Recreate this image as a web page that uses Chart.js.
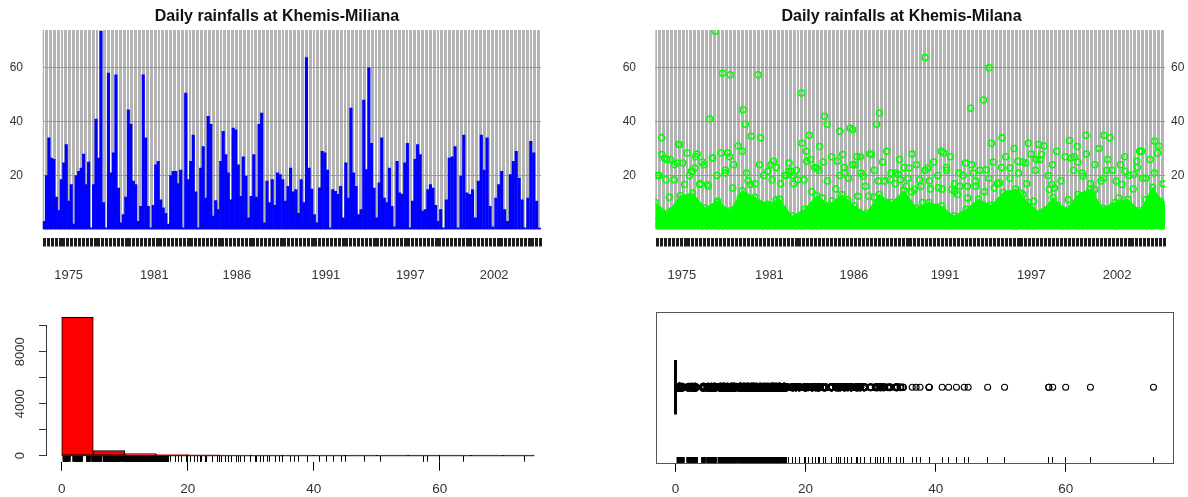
<!DOCTYPE html>
<html>
<head>
<meta charset="utf-8">
<script src="https://cdn.jsdelivr.net/npm/chart.js@4.4.0/dist/chart.umd.min.js"></script>
<style>
html,body{margin:0;padding:0;background:#ffffff;}
#wrap{position:relative;width:1188px;height:497px;overflow:hidden;background:#fff;}
canvas{position:absolute;display:block;}
</style>
</head>
<body>
<div id="wrap">
  <canvas id="c1" width="600" height="300" style="left:0;top:0"></canvas>
  <canvas id="c2" width="588" height="300" style="left:600px;top:0"></canvas>
  <canvas id="c3" width="600" height="197" style="left:0;top:300px"></canvas>
  <canvas id="c4" width="588" height="197" style="left:600px;top:300px"></canvas>
</div>
<script>
// ---------------- DATA ----------------
// daily rainfall (mm), peak value per short period, in time order
const rainPeaks = [
  3, 20, 34, 26.5, 26, 12, 7, 18.5, 24.7, 31.5, 10.5, 16.7, 2, 20, 21.6, 22.8, 28, 16.7, 25, 0.6,
  16.7, 41, 26.5, 73.5, 10, 0.6, 58, 21, 28.4, 57.4, 15.4, 2.5, 5.5, 12, 44.4, 39, 18, 16.7, 3, 8.6,
  57.4, 34, 8.6, 0.6, 9, 24, 25.3, 11, 8, 6, 2, 20, 21.6, 21.6, 17, 22, 0.6, 50.6, 18.5, 25.3,
  35, 14, 0.6, 22.8, 30.8, 11.7, 42, 39, 5, 10.7, 7.4, 25.3, 36.4, 27.8, 21, 11, 37.6, 37, 24, 12.3,
  27, 19.8, 4.3, 12.3, 27.8, 12, 39, 43.2, 2.5, 18, 10, 18.5, 9, 21, 20.4, 18.5, 10.5, 16, 22.8, 14,
  14.8, 6, 18.5, 10, 63.8, 22.8, 15, 5.5, 2.5, 15.5, 29, 28.4, 22, 0.6, 14.8, 14.2, 13, 16,
  4.3, 24.7, 11.7, 45, 21, 16, 5.5, 7.4, 48, 22.2, 60, 32, 15.4, 4.3, 17.3, 34, 11.7, 10, 22.8, 8.6,
  1, 25.3, 13.6, 13, 24.7, 32, 0.6, 10.5, 26, 31.5, 27.8, 6.8, 7.4, 14.8, 16.7, 15.4, 9, 3, 7.4,
  0.6, 11, 26.5, 27, 30.8, 0.6, 19.8, 35, 13.6, 13, 14.8, 4.3, 18, 35, 22, 34, 8.6, 1, 11.7, 16.7,
  21.6, 7.4, 3, 20.4, 25.3, 29, 19, 11, 0.6, 11.7, 32.7, 28.4, 10.5, 0.5
];
// the peaks above come in 5 reading blocks: first day of each block, number of peaks in it
const blockStartDays = [0, 2331, 4679, 7027, 9375];
const blockCounts = [40, 40, 38, 39, 34];
// other wet days of moderate size (second tier of the scatter), in time order
const midValues = [
  20, 27.8, 18.5, 26, 24, 31.5, 24.7, 28.4, 21.6, 27, 17, 24, 16, 26.5, 20, 28.4, 22, 27, 24, 31,
  29, 21, 34.6, 17, 24, 20, 21.6, 18.5, 23, 17, 20, 24.7, 20, 18.5, 32, 29, 26, 23,
  22, 25, 18, 27, 15, 20, 23, 19, 24, 27, 21, 16, 28, 22, 18,
  25, 29, 21, 17, 26, 23, 19, 28, 24, 16, 22, 18, 25, 20, 15, 23, 27, 17, 21,
  20, 16, 24, 18, 22, 14, 19, 25, 17, 23, 27, 19, 30, 21, 25, 17, 28, 22,
  26, 31, 20, 24, 29, 18, 27, 33, 22, 25, 21, 28, 17, 24, 30, 19, 26, 22,
  18, 24, 27, 20, 15, 23, 29, 19, 26, 21, 31, 17
];
// upper level of the dense mass of small daily values (scatter panel)
const bandTops = [
  10, 6, 12.5, 13.5, 8, 10.6, 7, 14.4, 12, 9.4, 11.2, 5, 7.5, 12.5, 9, 13, 8.8, 6, 13, 10, 14.4,
  8, 10, 8.8, 5, 7.5, 11.2, 9, 13.7, 15, 10, 6, 11.9, 6.9, 13, 15, 8, 10, 11.2, 7, 15.6, 9
];
const totalDays = 11700;                       // length of the daily series
const yearTickDays = [610, 2620, 4560, 6650, 8630, 10600];
const yearTickLabels = ['1975', '1981', '1986', '1991', '1997', '2002'];
const rainTicks = [20, 40, 60];
// histogram of daily rainfall
const binStarts = [0, 5, 10, 15, 20, 25, 30, 35, 40, 45, 50, 55, 60, 65, 70];
const binCounts = [10650, 385, 155, 90, 60, 20, 12, 8, 6, 4, 2, 3, 2, 1, 1];
const binWidth = 5;
const countTicks = [0, 2000, 4000, 6000, 8000, 10000];
const countLabels = [0, 4000, 8000];
const valueTicks = [0, 20, 40, 60];
// box plot statistics (most days are dry: quartiles all at 0)
const boxQuartiles = [0, 0, 0];
const observations = rainPeaks.concat(midValues, bandTops);

// ---------------- STYLE / HELPERS ----------------
const FONT = '"Liberation Sans", Arial, Helvetica, sans-serif';
Chart.defaults.font.family = FONT;
Chart.defaults.color = '#333';
const TXT = '#333';
const denseLimit = 17;     // below this value the rug / outlier marks merge into a solid band

// day position of every peak
const peakDays = [];
blockCounts.forEach((n, b) => {
  const end = b + 1 < blockStartDays.length ? blockStartDays[b + 1] : totalDays;
  const step = (end - blockStartDays[b]) / n;
  for (let j = 0; j < n; j++) peakDays.push(blockStartDays[b] + (j + 0.5) * step);
});
const peakPoints = rainPeaks.map((v, i) => ({x: peakDays[i], y: v}));

function quarterGrid() { const a = []; for (let d = 45; d < totalDays; d += 91) a.push({value: d}); return a; }
const setTicks = (arr) => (s) => { s.ticks = arr.map(v => ({value: v})); };
const spread = (arr) => arr.map((v, i) => ({x: (i + 0.5) * totalDays / arr.length, y: v}));

const grayBg = {
  id: 'grayBg',
  beforeDraw(chart) {
    const {ctx, chartArea: a} = chart;
    ctx.save();
    ctx.fillStyle = '#b3b3b3';
    ctx.fillRect(a.left, a.top, a.right - a.left, a.bottom - a.top);
    ctx.restore();
  }
};
const frameBox = {
  id: 'frameBox',
  afterDraw(chart) {
    const {ctx, chartArea: a, scales} = chart;
    const b = scales.xrug.bottom;
    ctx.save();
    ctx.strokeStyle = '#555';
    ctx.lineWidth = 1;
    ctx.strokeRect(Math.round(a.left) + 0.5, Math.round(a.top) + 0.5, Math.round(a.right - a.left), Math.round(b - a.top));
    ctx.restore();
  }
};

function topScales(leftW, rightW, leftPad, rightPad) {
  return {
    xs: { type: 'linear', position: 'bottom', min: 0, max: totalDays, bounds: 'data', weight: 0, offset: false,
      afterBuildTicks: (s) => { s.ticks = []; },
      grid: { display: false, offset: false }, ticks: { display: false }, border: { display: false },
      afterFit: (s) => { s.height = 8; } },
    xr: { type: 'linear', position: 'bottom', min: 0, max: totalDays, bounds: 'data', weight: 1, offset: false,
      afterBuildTicks: (s) => { s.ticks = quarterGrid(); },
      grid: { offset: false, color: '#ffffff', lineWidth: 1, drawTicks: true, tickLength: 9, tickColor: '#1c1c1c', tickWidth: 3, z: -1 },
      ticks: { display: false }, border: { display: false },
      afterFit: (s) => { s.height = 9; } },
    xl: { type: 'linear', position: 'bottom', min: 0, max: totalDays, bounds: 'data', weight: 2, offset: false,
      afterBuildTicks: setTicks(yearTickDays),
      grid: { display: false, drawTicks: false, offset: false }, border: { display: false },
      ticks: { autoSkip: false, maxRotation: 0, padding: 21.5, color: TXT, font: { size: 12.9 },
        callback: (v, i) => yearTickLabels[i] },
      afterFit: (s) => { s.height = 40; } },
    y: { position: 'left', min: 0, max: 74, afterBuildTicks: setTicks(rainTicks),
      grid: { color: '#999999', lineWidth: 1, drawTicks: false, z: -0.5 }, border: { display: false },
      ticks: { padding: leftPad, color: TXT, font: { size: 12 } },
      afterFit: (s) => { s.width = leftW; } },
    y2: { position: 'right', min: 0, max: 74, afterBuildTicks: setTicks(rainTicks),
      grid: { display: false, drawTicks: false }, border: { display: false },
      ticks: { padding: rightPad, color: TXT, font: { size: 12 } },
      afterFit: (s) => { s.width = rightW; } }
  };
}
const titleOpts = (text) => ({ display: true, text, color: '#111', font: { size: 16, weight: 'bold' },
  padding: { top: 7.1, bottom: 3.7 } });
const rugWidth = (c) => (c.tick && c.tick.value < denseLimit ? 4 : 1);

// ---------------- TOP LEFT: bars ----------------
new Chart(document.getElementById('c1'), {
  type: 'bar',
  data: { datasets: [{
    data: peakPoints, xAxisID: 'xr', yAxisID: 'y',
    backgroundColor: '#0000ff', borderWidth: 0, barPercentage: 1, categoryPercentage: 1
  }] },
  options: {
    responsive: false, animation: false, devicePixelRatio: 1,
    layout: { padding: { left: 0, right: 46, top: 0, bottom: 13.5 } },
    plugins: { legend: { display: false }, tooltip: { enabled: false }, title: titleOpts('Daily rainfalls at Khemis-Miliana') },
    scales: topScales(42.7, 13, 19.7, 20)
  },
  plugins: [grayBg]
});

// ---------------- TOP RIGHT: points ----------------
const ring = { showLine: false, pointRadius: 3, pointBorderWidth: 1.5,
  pointBorderColor: '#00ff00', pointBackgroundColor: 'rgba(0,0,0,0)' };
new Chart(document.getElementById('c2'), {
  type: 'line',
  data: { datasets: [
    { data: bandTops.map((v, i) => ({x: i * totalDays / (bandTops.length - 1), y: v})),
      xAxisID: 'xr', yAxisID: 'y', fill: 'origin', backgroundColor: '#00ff00', borderColor: '#00ff00',
      borderWidth: 1, tension: 0, pointRadius: 3, pointBorderWidth: 1.5,
      pointBorderColor: '#00ff00', pointBackgroundColor: 'rgba(0,0,0,0)' },
    Object.assign({ data: spread(midValues), xAxisID: 'xr', yAxisID: 'y' }, ring),
    Object.assign({ data: peakPoints, xAxisID: 'xr', yAxisID: 'y' }, ring)
  ] },
  options: {
    responsive: false, animation: false, devicePixelRatio: 1,
    layout: { padding: { left: 15, right: 0, top: 0, bottom: 13.5 } },
    plugins: { legend: { display: false }, tooltip: { enabled: false }, title: titleOpts('Daily rainfalls at Khemis-Milana') },
    scales: topScales(40.3, 23, 19.3, 6)
  },
  plugins: [grayBg]
});

// ---------------- BOTTOM LEFT: histogram ----------------
new Chart(document.getElementById('c3'), {
  type: 'bar',
  data: { datasets: [
    { type: 'bar', data: binStarts.map((s, i) => ({x: s + binWidth / 2, y: binCounts[i]})),
      xAxisID: 'x', yAxisID: 'y', backgroundColor: '#ff0000', borderColor: '#000', borderWidth: 1,
      borderSkipped: false, barPercentage: 1, categoryPercentage: 1, clip: false },
    { type: 'line', data: [{x: binStarts[0], y: 0}, {x: binStarts[binStarts.length - 1] + binWidth, y: 0}],
      xAxisID: 'x', yAxisID: 'y', borderColor: '#000', borderWidth: 1, pointRadius: 0, clip: false }
  ] },
  options: {
    responsive: false, animation: false, devicePixelRatio: 1,
    layout: { padding: { left: 0, right: 47, top: 25.7, bottom: 0 } },
    plugins: { legend: { display: false }, tooltip: { enabled: false } },
    scales: {
      xrug: { type: 'linear', position: 'bottom', min: -2.5, max: 78, bounds: 'data', weight: 0, offset: false,
        afterBuildTicks: setTicks(observations),
        grid: { offset: false, drawOnChartArea: false, drawTicks: true, tickLength: 6, tickColor: '#000', tickWidth: rugWidth },
        ticks: { display: false }, border: { display: false },
        afterFit: (s) => { s.height = 6; } },
      x: { type: 'linear', position: 'bottom', min: -2.5, max: 78, bounds: 'data', weight: 1, offset: false,
        afterBuildTicks: setTicks(valueTicks),
        grid: { offset: false, drawOnChartArea: false, drawTicks: true, tickLength: 9, tickColor: '#000', tickWidth: 1 },
        border: { display: false },
        ticks: { autoSkip: false, maxRotation: 0, padding: 10.2, color: TXT, font: { size: 13.5 } },
        afterFit: (s) => { s.height = 35.3; } },
      y: { type: 'linear', position: 'left', min: 0, max: 10000, afterBuildTicks: setTicks(countTicks),
        grid: { drawOnChartArea: false, drawTicks: true, tickLength: 7, tickColor: '#333' },
        border: { display: true, color: '#333', width: 1 },
        ticks: { autoSkip: false, minRotation: 90, maxRotation: 90, crossAlign: 'center', padding: 4,
          color: TXT, font: { size: 13 },
          callback: (v) => (countLabels.includes(v) ? String(v) : '') },
        afterFit: (s) => { s.width = 46; } }
    }
  }
});

// ---------------- BOTTOM RIGHT: box plot ----------------
const boxHalf = 0.18;
new Chart(document.getElementById('c4'), {
  type: 'line',
  data: { datasets: [
    { data: observations.map(v => ({x: v, y: 1})), xAxisID: 'x', yAxisID: 'y', showLine: false,
      pointRadius: 3, pointBorderColor: '#000', pointBackgroundColor: 'rgba(0,0,0,0)',
      pointBorderWidth: (c) => (c.raw && c.raw.x < denseLimit ? 3 : (c.raw && c.raw.x < 35 ? 2 : 1.1)) },
    { data: [{x: boxQuartiles[1], y: 1 - boxHalf}, {x: boxQuartiles[1], y: 1 + boxHalf}], xAxisID: 'x', yAxisID: 'y',
      borderColor: '#000', borderWidth: 3, pointRadius: 0 },
    { data: [{x: boxQuartiles[0], y: 1}, {x: boxQuartiles[2], y: 1}], xAxisID: 'x', yAxisID: 'y',
      borderColor: '#000', borderWidth: 1, pointRadius: 0 }
  ] },
  options: {
    responsive: false, animation: false, devicePixelRatio: 1,
    layout: { padding: { left: 56, right: 15, top: 11.7, bottom: 0 } },
    plugins: { legend: { display: false }, tooltip: { enabled: false } },
    scales: {
      xrug: { type: 'linear', position: 'bottom', min: -3, max: 76.5, bounds: 'data', weight: 0,
        afterBuildTicks: setTicks(observations),
        grid: { drawOnChartArea: false, drawTicks: true, tickLength: 6, tickColor: '#000', tickWidth: rugWidth },
        ticks: { display: false }, border: { display: false },
        afterFit: (s) => { s.height = 6; } },
      x: { type: 'linear', position: 'bottom', min: -3, max: 76.5, bounds: 'data', weight: 1,
        afterBuildTicks: setTicks(valueTicks),
        grid: { drawOnChartArea: false, drawTicks: true, tickLength: 9, tickColor: '#000', tickWidth: 1 },
        border: { display: false },
        ticks: { autoSkip: false, maxRotation: 0, padding: 9.2, color: TXT, font: { size: 13.5 } },
        afterFit: (s) => { s.height = 34.3; } },
      y: { type: 'linear', display: false, min: 0.54, max: 1.5 }
    }
  },
  plugins: [frameBox]
});
</script>
</body>
</html>
